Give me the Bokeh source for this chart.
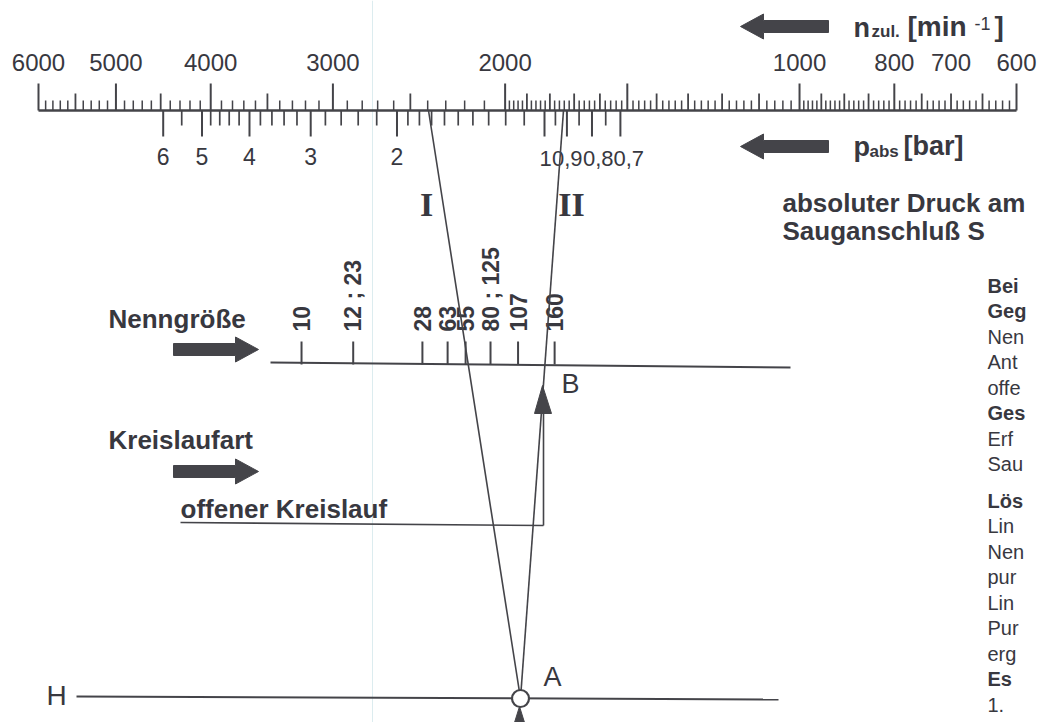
import numpy as np
from bokeh.plotting import figure
from bokeh.models import Range1d, LogScale, ColumnDataSource
from bokeh.embed import file_html
from bokeh.resources import INLINE
from bokeh.core.properties import value

# ---------------- data ----------------
# permissible speed scale n_zul [min-1]
n_labels = [6000, 5000, 4000, 3000, 2000, 1000, 800, 700, 600]
n_major = [6000, 5000, 4000, 3000, 2000, 1500, 1000, 800, 600]
n_mid = [5500, 4500, 3500, 2500, 1900, 1800, 1700, 1600, 1400, 1300, 1200, 1100,
         950, 900, 850, 750, 700, 650]
n_small = ([v for v in range(5900, 2000, -100)] + [v for v in range(1980, 1000, -20)]
           + [v for v in range(990, 600, -10)])
n_small = [v for v in n_small if v not in n_major and v not in n_mid]

# absolute pressure scale p_abs [bar]
p_labels = [6, 5, 4, 3, 2]
p_label_text = ["6", "5", "4", "3", "2"]
p_labels_low = [1, 0.9, 0.8, 0.7]
p_label_low_text = ["1", "0,9", "0,8", "0,7"]
p_minor = [5.5, 4.8, 4.6, 4.4, 4.2, 3.8, 3.6, 3.4, 3.2, 2.8, 2.6, 2.4, 2.2,
           1.9, 1.8, 1.7, 1.6, 1.5, 1.4, 1.3, 1.2, 1.1, 0.95, 0.85, 0.75]

# Nenngröße scale (positions given as equivalent speed on the n scale)
nenn_labels = ["10", "12 ; 23", "28", "63", "55", "80 ; 125", "107", "160"]
nenn_pos_n = [3230, 2860, 2430, 2290, 2195, 2070, 1940, 1780]

# right-hand (cropped) explanation column
side_text = ["Bei", "Geg", "Nen", "Ant", "offe", "Ges", "Erf", "Sau",
             "Lös", "Lin", "Nen", "pur", "Lin", "Pur", "erg", "Es", "1."]
side_bold = [True, True, False, False, False, True, False, False,
             True, False, False, False, False, False, False, True, False]
side_row = [0, 1, 2, 3, 4, 5, 6, 7, 8.45, 9.45, 10.45, 11.45, 12.45, 13.45, 14.45, 15.45, 16.45]

# ---------------- styling / layout ----------------
INK = "#444449"
TXT = "#38383f"
SANS = "Liberation Sans"
BASE_Y = 110

W, H = 1037, 722
p = figure(width=W, height=H, x_range=Range1d(0, W), y_range=Range1d(H, 0),
           output_backend="svg", toolbar_location=None, min_border=0,
           x_axis_location=None, y_axis_location=None)
p.grid.visible = False
p.outline_line_color = None
p.background_fill_color = "white"
p.border_fill_color = "white"

# log scales for the nomogram's scales (n: 6000 -> x=38, 600 -> x=1016)
n_lo = 10 ** (np.log10(6000) + 38 / 978)
n_hi = 10 ** (np.log10(6000) - (W - 38) / 978)
p_lo = 10 ** (544 / 490)
p_hi = 10 ** ((544 - W) / 490)
p.extra_x_ranges = {"n": Range1d(n_lo, n_hi), "p": Range1d(p_lo, p_hi)}
p.extra_x_scales = {"n": LogScale(), "p": LogScale()}

# faint scan artefact
p.segment(x0=[372], y0=[0], x1=[372], y1=[H], line_color="#dcecef", line_width=1)

# ---- n scale ----
p.segment(x0=[6000], y0=[BASE_Y], x1=[600], y1=[BASE_Y], x_range_name="n",
          line_color=INK, line_width=2.4)
p.segment(x0=n_major, y0=[BASE_Y] * len(n_major), x1=n_major, y1=[BASE_Y - 27] * len(n_major),
          x_range_name="n", line_color=INK, line_width=2)
p.segment(x0=n_mid, y0=[BASE_Y] * len(n_mid), x1=n_mid, y1=[BASE_Y - 17] * len(n_mid),
          x_range_name="n", line_color=INK, line_width=1.8)
p.segment(x0=n_small, y0=[BASE_Y] * len(n_small), x1=n_small, y1=[BASE_Y - 10] * len(n_small),
          x_range_name="n", line_color=INK, line_width=1.5)
p.text(x=n_labels, y=[62] * len(n_labels), text=[str(v) for v in n_labels], x_range_name="n",
       text_font=value(SANS), text_font_size="24px", text_align="center",
       text_baseline="middle", text_color=TXT)

# ---- p scale ----
p_long = p_labels + p_labels_low
p.segment(x0=p_long, y0=[BASE_Y] * len(p_long), x1=p_long, y1=[BASE_Y + 26] * len(p_long),
          x_range_name="p", line_color=INK, line_width=2)
p.segment(x0=p_minor, y0=[BASE_Y] * len(p_minor), x1=p_minor, y1=[BASE_Y + 15] * len(p_minor),
          x_range_name="p", line_color=INK, line_width=1.7)
p.text(x=p_labels, y=[156] * len(p_labels), text=p_label_text, x_range_name="p",
       text_font=value(SANS), text_font_size="23px", text_align="center",
       text_baseline="middle", text_color=TXT)
p.text(x=p_labels_low, y=[158] * len(p_labels_low), text=p_label_low_text, x_range_name="p",
       x_offset=[-5, -15, -9, -7],
       text_font=value(SANS), text_font_size="22px", text_align="left",
       text_baseline="middle", text_color=TXT)

# ---- Nenngröße scale ----
p.segment(x0=[270], y0=[362], x1=[790], y1=[367], line_color=INK, line_width=2)
p.segment(x0=nenn_pos_n, y0=[364] * len(nenn_pos_n), x1=nenn_pos_n, y1=[341] * len(nenn_pos_n),
          x_range_name="n", line_color=INK, line_width=2)
p.text(x=nenn_pos_n, y=[331] * len(nenn_pos_n), text=nenn_labels, x_range_name="n",
       angle=np.pi / 2, text_font=value(SANS), text_font_size="23px", text_font_style="bold",
       text_align="left", text_baseline="middle", text_color=TXT)

# ---- construction lines ----
p.segment(x0=[428, 563, 180, 543], y0=[110, 110, 522, 525], x1=[520, 520, 543, 543],
          y1=[698, 698, 525, 412], line_color=INK, line_width=1.6)
p.segment(x0=[76], y0=[696], x1=[778], y1=[699], line_color=INK, line_width=2)


def arrow(tip_x, y, direction, length=86, body=6.0, head=12.5, head_len=23):
    d = direction
    xs = [tip_x, tip_x - d * head_len, tip_x - d * head_len, tip_x - d * length,
          tip_x - d * length, tip_x - d * head_len, tip_x - d * head_len]
    ys = [y, y - head, y - body, y - body, y + body, y + body, y + head]
    return xs, ys


arrows = [arrow(740, 26, -1, 88), arrow(740, 146, -1, 88), arrow(258, 349, 1, 85), arrow(258, 471, 1, 85)]
p.patches(xs=[a[0] for a in arrows], ys=[a[1] for a in arrows], fill_color=INK, line_color=INK,
          line_width=1)
# arrowhead at B and wedge below A
p.patches(xs=[[542, 534, 551], [519, 514, 524]], ys=[[385, 413, 413], [706, 722, 722]],
          fill_color=INK, line_color=INK, line_width=1)
# point A
p.scatter(x=[520], y=[698], size=17, marker="circle", fill_color="white", line_color=INK,
          line_width=2.2)


# ---- texts ----
def txt(x, y, s, size, bold=False, font=SANS, align="left"):
    p.text(x=[x], y=[y], text=[s], text_font=value(font), text_font_size=f"{size}px",
           text_font_style="bold" if bold else "normal", text_align=align,
           text_baseline="middle", text_color=TXT)


txt(853, 27, "n", 27, True)
txt(871, 31, "zul.", 17, True)
txt(907, 26, "[min", 28, True)
txt(974, 23, "-1", 18)
txt(994, 26, "]", 28, True)
txt(853, 146, "p", 27, True)
txt(869, 151, "abs", 17, True)
txt(903, 145, "[bar]", 27, True)
txt(782, 202, "absoluter Druck am", 26, True)
txt(782, 230, "Sauganschluß S", 26, True)
txt(108, 318, "Nenngröße", 26, True)
txt(108, 439, "Kreislaufart", 26, True)
txt(180, 508, "offener Kreislauf", 26, True)
txt(426, 204, "I", 34, True, "Liberation Serif", "center")
txt(571, 204, "II", 34, True, "Liberation Serif", "center")
txt(543, 676, "A", 27)
txt(561, 383, "B", 27)
txt(56, 695, "H", 28, False, SANS, "center")

src = ColumnDataSource(dict(x=[987] * len(side_text), y=[285 + 25.5 * r for r in side_row],
                            text=side_text,
                            style=["bold" if b else "normal" for b in side_bold]))
p.text(x="x", y="y", text="text", source=src, text_font=value(SANS), text_font_size="20px",
       text_font_style="style", text_align="left", text_baseline="middle", text_color=TXT)

open("out.html", "w").write(file_html(p, INLINE))
